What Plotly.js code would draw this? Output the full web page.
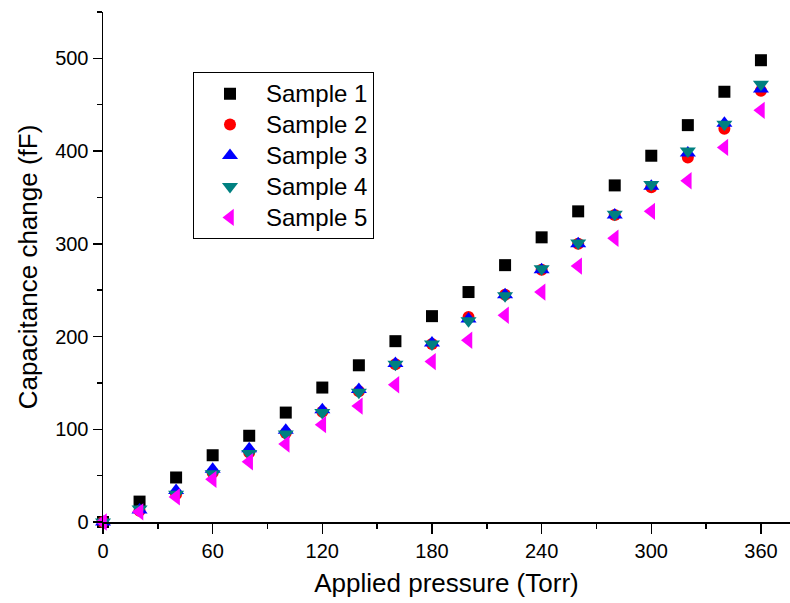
<!DOCTYPE html>
<html>
<head>
<meta charset="utf-8">
<script src="https://cdn.plot.ly/plotly-3.0.1.min.js"></script>
<style>html,body{margin:0;padding:0;background:#fff;}#chart{width:790px;height:603px;}</style>
</head>
<body>
<div id="chart"></div>
<script>
var pressure = [0, 20, 40, 60, 80, 100, 120, 140, 160, 180, 200, 220, 240, 260, 280, 300, 320, 340, 360];
var sample1 = [0, 22, 48, 72, 93, 118, 145, 169, 195, 222, 248, 277, 307, 335, 363, 395, 428, 464, 498];
var sample2 = [0, 12, 30, 53, 75, 96, 119, 141, 170, 192, 221, 245, 272, 300, 331, 361, 393, 424, 465];
var sample3 = [0, 13, 34, 57, 79, 99, 121, 143, 171, 193, 219, 245, 272, 300, 331, 362, 398, 430, 467];
var sample4 = [0, 14, 30, 52, 74, 95, 118, 140, 170, 192, 217, 244, 273, 301, 332, 364, 400, 429, 472];
var sample5 = [0, 11, 27, 46, 65, 84, 105, 125, 148, 173, 196, 223, 248, 276, 306, 335, 368, 404, 444];
var names = ["Sample 1", "Sample 2", "Sample 3", "Sample 4", "Sample 5"];
var xTickVals = [0, 60, 120, 180, 240, 300, 360];
var yTickVals = [0, 100, 200, 300, 400, 500];

var series = [sample1, sample2, sample3, sample4, sample5];
var symbols = ["square", "circle", "triangle-up", "triangle-down", "triangle-left"];
var colors = ["#000000", "#ff0000", "#0000ff", "#008080", "#ff00ff"];
var sizes = [12, 12, 14, 14, 15];

var traces = series.map(function (ys, i) {
  return {
    x: pressure, y: ys,
    name: '<span style="font-size:24px">' + names[i] + '</span>',
    type: "scatter", mode: "markers",
    cliponaxis: false,
    marker: {symbol: symbols[i], color: colors[i], size: sizes[i], line: {width: 0}}
  };
});

var font = "Liberation Sans, Arial, Helvetica, sans-serif";
var layout = {
  width: 790, height: 603,
  margin: {l: 103, r: 0, t: 12, b: 81},
  paper_bgcolor: "#fff", plot_bgcolor: "#fff",
  font: {family: font, color: "#000", size: 20},
  showlegend: true,
  legend: {
    x: 0.131, y: 0.882, xanchor: "left", yanchor: "top",
    bordercolor: "#000", borderwidth: 1, bgcolor: "#fff",
    font: {family: font, size: 21.5, color: "#000"},
    itemwidth: 62
  },
  xaxis: {
    range: [0, 375.9], showgrid: false, zeroline: false,
    showline: true, linecolor: "#000", linewidth: 1.5,
    ticks: "outside", ticklen: 10, tickwidth: 1.5, tickcolor: "#000",
    tickvals: xTickVals, ticktext: xTickVals.map(String),
    tickfont: {size: 20},
    minor: {dtick: 30, tick0: 0, ticks: "outside", ticklen: 5, tickwidth: 1.5, tickcolor: "#000", showgrid: false},
    title: {text: "Applied pressure (Torr)", font: {size: 26}, standoff: 13}
  },
  yaxis: {
    range: [0, 550], showgrid: false, zeroline: false,
    showline: true, linecolor: "#000", linewidth: 1.5,
    ticks: "outside", ticklen: 9, tickwidth: 1.5, tickcolor: "#000",
    tickvals: yTickVals, ticktext: yTickVals.map(String),
    tickfont: {size: 20},
    minor: {dtick: 50, tick0: 0, ticks: "outside", ticklen: 5, tickwidth: 1.5, tickcolor: "#000", showgrid: false},
    title: {text: "Capacitance change (fF)", font: {size: 26}, standoff: 10}
  }
};

Plotly.newPlot("chart", traces, layout, {displayModeBar: false, staticPlot: true});
</script>
</body>
</html>
